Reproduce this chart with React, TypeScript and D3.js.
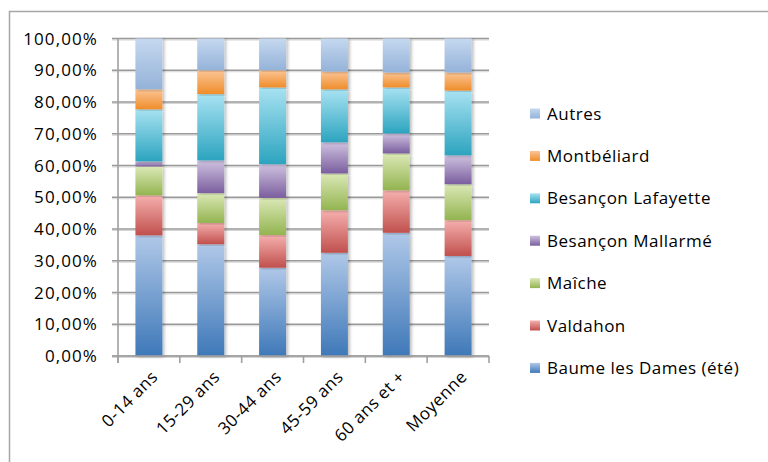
import React from 'react'
import * as d3 from 'd3'

// répartition par tranche d'âge (barres empilées 100%)
const categories = ['0-14 ans', '15-29 ans', '30-44 ans', '45-59 ans', '60 ans et +', 'Moyenne']
const series = ['Baume les Dames (été)', 'Valdahon', 'Maîche', 'Besançon Mallarmé', 'Besançon Lafayette', 'Montbéliard', 'Autres']

const baume = [38.0, 35.2, 27.8, 32.5, 38.8, 31.5]
const valdahon = [12.6, 6.7, 10.3, 13.4, 13.4, 11.3]
const maiche = [9.1, 9.4, 11.7, 11.6, 11.6, 11.3]
const mallarme = [1.6, 10.3, 10.6, 9.8, 6.3, 9.1]
const lafayette = [16.4, 20.9, 24.2, 16.7, 14.5, 20.4]
const montbeliard = [6.3, 7.5, 5.4, 5.6, 4.7, 5.7]
const autres = [16.0, 10.0, 10.0, 10.4, 10.7, 10.7]

const yTicks = [0, 10, 20, 30, 40, 50, 60, 70, 80, 90, 100]

// [haut clair, bas foncé]
const colors = [
  ['#b0c8e8', '#3e78b8'],
  ['#f5b0ae', '#c0504d'],
  ['#dbe8b6', '#93b450'],
  ['#cfc2e0', '#7a5e9e'],
  ['#a8e2f2', '#2ca4bf'],
  ['#fbc596', '#ef8d2a'],
  ['#c5d8ef', '#94b2d9'],
]

const W = 768, H = 462
const left = 118, right = 489, top = 38.5, bottom = 356
const font = '"Open Sans", sans-serif'

export default function App() {
  const rows = categories.map((c, i) => ({
    cat: c,
    s0: baume[i], s1: valdahon[i], s2: maiche[i], s3: mallarme[i],
    s4: lafayette[i], s5: montbeliard[i], s6: autres[i],
  }))
  const keys = series.map((_, i) => 's' + i)
  const stacked = d3.stack<any>().keys(keys).offset(d3.stackOffsetExpand)(rows)

  const x = d3.scaleBand().domain(categories).range([left, right]).paddingInner(0.564).paddingOuter(0.282)
  const y = d3.scaleLinear().domain([0, 100]).range([bottom, top])
  const step = x.step()

  const legendY = (i: number) => 113.5 + (series.length - 1 - i) * 42.4

  return (
    <svg width={W} height={H} style={{position: 'absolute', left: 0, top: 0}} fontFamily={font}>
      <defs>
        {colors.map((c, i) => (
          <linearGradient key={i} id={'g' + i} x1="0" y1="0" x2="0" y2="1">
            <stop offset="0" stopColor={c[0]} />
            <stop offset="1" stopColor={c[1]} />
          </linearGradient>
        ))}
        <filter id="shadow" x="-20%" y="-5%" width="150%" height="110%">
          <feDropShadow dx="2" dy="1" stdDeviation="1.5" floodColor="#000" floodOpacity="0.25" />
        </filter>
      </defs>
      <rect x={0} y={0} width={W} height={H} fill="#fff" />
      <rect x={9.5} y={11.5} width={W + 10} height={H + 10} fill="none" stroke="#a6a6a6" strokeWidth={1.5} />

      {/* grille */}
      {yTicks.map(t => (
        <g key={t}>
          <line x1={112} x2={right} y1={y(t) + 1.5} y2={y(t) + 1.5} stroke="#d6d6d6" strokeWidth={1.2} />
          <line x1={112} x2={right} y1={y(t)} y2={y(t)} stroke="#999" strokeWidth={1.6} />
          <text x={98} y={y(t)} dy="0.36em" textAnchor="end" fontSize={17} letterSpacing={1.1} fill="#000">
            {t.toFixed(2).replace('.', ',')}%
          </text>
        </g>
      ))}
      <line x1={left} x2={left} y1={top} y2={bottom + 7} stroke="#a0a0a0" strokeWidth={1.6} />
      {d3.range(categories.length + 1).map(i => (
        <line key={i} x1={left + i * step} x2={left + i * step} y1={bottom} y2={bottom + 7} stroke="#a0a0a0" strokeWidth={1.6} />
      ))}

      {/* barres */}
      {stacked.map((layer, si) => (
        <g key={si} fill={`url(#g${si})`}>
          {layer.map((d, ci) => (
            <rect key={ci} x={x(categories[ci])} width={x.bandwidth()}
              y={y(d[1] * 100)} height={y(d[0] * 100) - y(d[1] * 100)} filter="url(#shadow)" />
          ))}
        </g>
      ))}
      <line x1={left - 6} x2={right} y1={bottom} y2={bottom} stroke="#a0a0a0" strokeWidth={1.6} />

      {/* étiquettes */}
      {categories.map(c => (
        <text key={c} transform={`translate(${x(c)! + x.bandwidth() / 2 + 1},${369}) rotate(-45)`}
          textAnchor="end" dy="0.75em" fontSize={17} letterSpacing={0.5} fill="#000">{c}</text>
      ))}

      {/* légende */}
      {series.map((s, i) => (
        <g key={s}>
          <rect x={530} y={legendY(i) - 5} width={10} height={10} fill={`url(#g${i})`} />
          <text x={547} y={legendY(i)} dy="0.36em" fontSize={17} letterSpacing={0.5} fill="#000">{s}</text>
        </g>
      ))}
    </svg>
  )
}
